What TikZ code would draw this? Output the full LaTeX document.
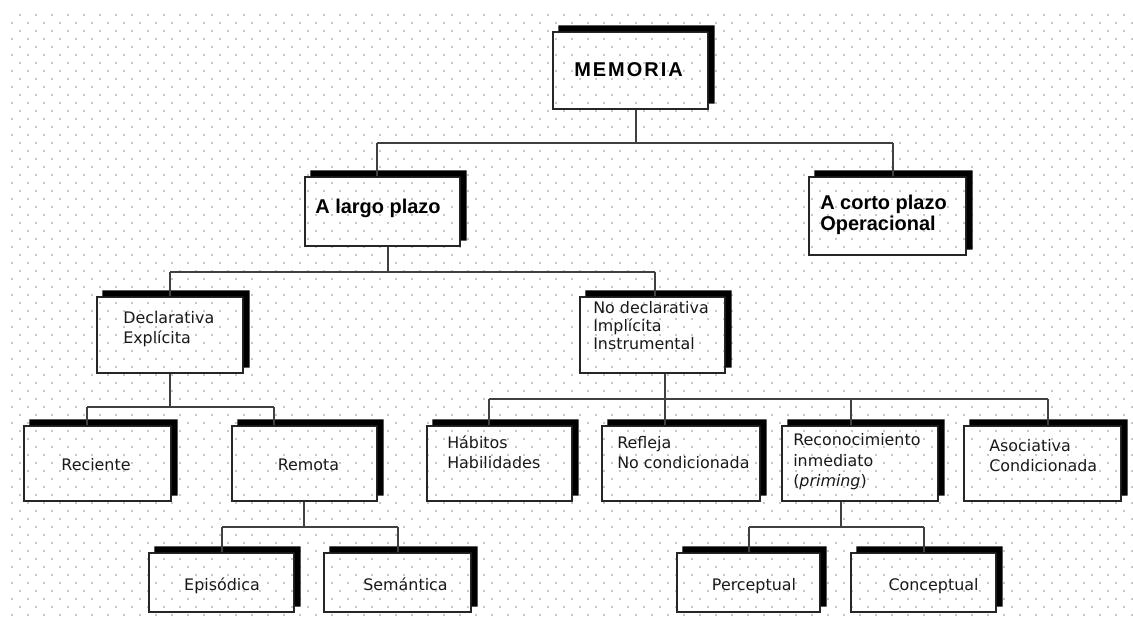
\documentclass[tikz,border=0pt]{standalone}
\usepackage{fontspec}
\setmainfont{DejaVu Sans}
\newfontfamily\negrita{Liberation Sans}
\usetikzlibrary{calc}

\tikzset{
    caja/.style={draw=black!85, line width=0.8pt, inner sep=0pt},
    linea/.style={draw=black!75, line width=0.9pt},
    texto/.style={inner sep=0pt, align=left, text=black!90, font=\fontsize{11.3}{14.2}\selectfont},
    titulo/.style={inner sep=0pt, align=left, text=black, font=\negrita\bfseries\fontsize{14.2}{14.9}\selectfont},
    puntos/.style={draw=black!22, line width=0.05cm, dash pattern=on 0.05cm off 0.35cm}
}
% sombra negra arriba y a la derecha de cada caja
\newcommand{\sombra}[1]{%
    \fill ($(#1.north west)+(6,0)$) -- ++(0,-6) -| ($(#1.south east)+(6,-6)$)
        -- ($(#1.south east)+(0,-6)$) -- (#1.north east) -- cycle;}

\begin{document}
\begin{tikzpicture}[x=0.025cm, y=-0.025cm]
\useasboundingbox (0,0) rectangle (1133,619);
\fill[white] (0,0) rectangle (1133,619);

% fondo punteado
\foreach \k in {0,...,75}{
    \pgfmathsetmacro\yy{15+8*\k}
    \pgfmathsetmacro\xx{11+8*mod(\k+1,2)}
    \draw[puntos] (\xx,\yy) -- (1134,\yy);
}

\node[caja, minimum width=155*0.025cm, minimum height=77*0.025cm] (memoria) at (630.5,70.5) {};
\node[caja, minimum width=155*0.025cm, minimum height=69*0.025cm] (largo) at (382.5,211.5) {};
\node[caja, minimum width=157*0.025cm, minimum height=78*0.025cm] (corto) at (887.5,216) {};
\node[caja, minimum width=146*0.025cm, minimum height=76*0.025cm] (decl) at (170,335) {};
\node[caja, minimum width=145*0.025cm, minimum height=76*0.025cm] (nodecl) at (652.5,335) {};
\node[caja, minimum width=147*0.025cm, minimum height=75*0.025cm] (reciente) at (97.5,463.5) {};
\node[caja, minimum width=145*0.025cm, minimum height=75*0.025cm] (remota) at (304.5,463.5) {};
\node[caja, minimum width=145*0.025cm, minimum height=75*0.025cm] (habitos) at (499.5,463.5) {};
\node[caja, minimum width=158*0.025cm, minimum height=75*0.025cm] (refleja) at (681,463.5) {};
\node[caja, minimum width=156*0.025cm, minimum height=75*0.025cm] (recon) at (860,463.5) {};
\node[caja, minimum width=157*0.025cm, minimum height=75*0.025cm] (asoc) at (1042.5,463.5) {};
\node[caja, minimum width=145*0.025cm, minimum height=59*0.025cm] (episodica) at (221.5,582.5) {};
\node[caja, minimum width=147*0.025cm, minimum height=59*0.025cm] (semantica) at (397.5,582.5) {};
\node[caja, minimum width=143*0.025cm, minimum height=59*0.025cm] (perceptual) at (748.5,582.5) {};
\node[caja, minimum width=145*0.025cm, minimum height=59*0.025cm] (conceptual) at (923.5,582.5) {};

\foreach \c in {memoria,largo,corto,decl,nodecl,reciente,remota,habitos,refleja,recon,asoc,episodica,semantica,perceptual,conceptual}
    \sombra{\c};

% ramas
\coordinate (m0) at (636,143);
\coordinate (m1) at (377,143);
\coordinate (m2) at (893,143);
\draw[linea] (m0 |- memoria.south) -- (m0) (m1) -- (m2)
    (m1) -- (m1 |- largo.north) (m2) -- (m2 |- corto.north);

\coordinate (l0) at (388,272);
\coordinate (l1) at (170,272);
\coordinate (l2) at (655,272);
\draw[linea] (l0 |- largo.south) -- (l0) (l1) -- (l2)
    (l1) -- (l1 |- decl.north) (l2) -- (l2 |- nodecl.north);

\coordinate (d0) at (170,407);
\coordinate (d1) at (87,407);
\coordinate (d2) at (274,407);
\draw[linea] (d0 |- decl.south) -- (d0) (d1) -- (d2)
    (d1) -- (d1 |- reciente.north) (d2) -- (d2 |- remota.north);

\coordinate (n0) at (665,399);
\coordinate (n1) at (489,399);
\coordinate (n2) at (851,399);
\coordinate (n3) at (1048,399);
\draw[linea] (n0 |- nodecl.south) -- (n0) (n1) -- (n3)
    (n1) -- (n1 |- habitos.north) (n0) -- (n0 |- refleja.north)
    (n2) -- (n2 |- recon.north) (n3) -- (n3 |- asoc.north);

\coordinate (r0) at (304,527);
\coordinate (r1) at (222,527);
\coordinate (r2) at (398,527);
\draw[linea] (r0 |- remota.south) -- (r0) (r1) -- (r2)
    (r1) -- (r1 |- episodica.north) (r2) -- (r2 |- semantica.north);

\coordinate (p0) at (841,527);
\coordinate (p1) at (749,527);
\coordinate (p2) at (924,527);
\draw[linea] (p0 |- recon.south) -- (p0) (p1) -- (p2)
    (p1) -- (p1 |- perceptual.north) (p2) -- (p2 |- conceptual.north);

% textos
\node[titulo, anchor=base] (t-memoria) at (628.5,76) {\addfontfeature{LetterSpace=10}MEMORIA};
\node[titulo, anchor=base] (t-largo) at (378,213) {A largo plazo};
\node[titulo, anchor=north west] (t-corto) at (820,194.5) {A corto plazo\\Operacional};

\node[texto, anchor=north west] (t-decl) at (123,311) {Declarativa\\Explícita};
\node[texto, anchor=north west, font=\fontsize{11.3}{12.8}\selectfont] (t-nodecl) at (593,301.5) {No declarativa\\Implícita\\Instrumental};
\node[texto, anchor=base] (t-reciente) at (96,470) {Reciente};
\node[texto, anchor=base] (t-remota) at (308.5,470) {Remota};
\node[texto, anchor=north west, font=\fontsize{11.3}{13.8}\selectfont] (t-habitos) at (447,436) {Hábitos\\Habilidades};
\node[texto, anchor=north west, font=\fontsize{11.3}{13.8}\selectfont] (t-refleja) at (617,436.5) {Refleja\\No condicionada};
\node[texto, anchor=north west, font=\fontsize{11.3}{14.8}\selectfont] (t-recon) at (793,433) {Reconocimiento\\inmediato\\(\textit{priming})};
\node[texto, anchor=north west] (t-asoc) at (989,439) {Asociativa\\Condicionada};
\node[texto, anchor=base] (t-episodica) at (222,590.5) {Episódica};
\node[texto, anchor=base] (t-semantica) at (405.5,590.5) {Semántica};
\node[texto, anchor=base] (t-perceptual) at (754,590.5) {Perceptual};
\node[texto, anchor=base] (t-conceptual) at (933.5,590.5) {Conceptual};
\end{tikzpicture}
\end{document}
